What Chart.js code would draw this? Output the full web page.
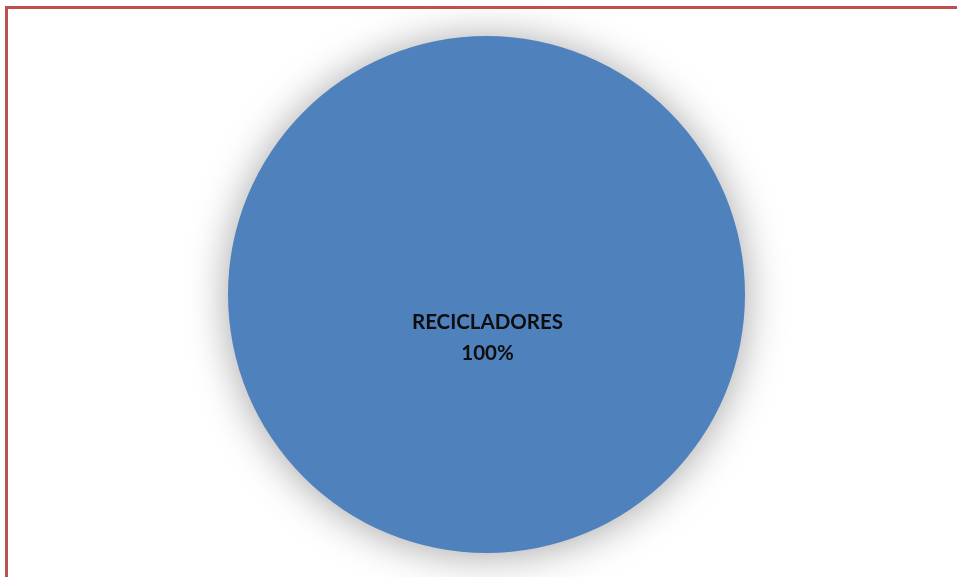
<!DOCTYPE html>
<html>
<head>
<meta charset="utf-8">
<script src="https://cdn.jsdelivr.net/npm/chart.js@4.4.0/dist/chart.umd.min.js"></script>
<style>
    html, body { margin: 0; padding: 0; background: #fff; }
    #wrap { position: relative; width: 957px; height: 577px; overflow: hidden; }
    #frame {
        position: absolute; left: 5px; top: 6px; width: 980px; height: 600px;
        border-left: 3px solid #c0504d; border-top: 3px solid #c0504d;
        pointer-events: none;
    }
    canvas { position: absolute; left: 0; top: 0; }
</style>
</head>
<body>
<div id="wrap">
    <canvas id="chart" width="957" height="577"></canvas>
    <div id="frame"></div>
</div>
<script>
// Pie data
const categories = ['RECICLADORES'];
const values = [100];
const sliceColors = ['#4f81bd'];

// soft shadow behind the pie
const shadowPlugin = {
    id: 'pieShadow',
    beforeDatasetsDraw(chart) {
        const ctx = chart.ctx;
        ctx.save();
        ctx.shadowColor = 'rgba(0,0,0,0.36)';
        ctx.shadowBlur = 42;
        ctx.shadowOffsetX = 0;
        ctx.shadowOffsetY = 2;
    },
    afterDatasetsDraw(chart) {
        chart.ctx.restore();
    },
};

// category + percent label in the slice
const labelPlugin = {
    id: 'sliceLabels',
    afterDraw(chart) {
        const ctx = chart.ctx;
        const meta = chart.getDatasetMeta(0);
        const total = values.reduce((a, b) => a + b, 0);
        ctx.save();
        ctx.fillStyle = '#0d0d0d';
        ctx.font = "bold 20.5px Lato, 'Open Sans', sans-serif";
        ctx.textAlign = 'center';
        ctx.textBaseline = 'middle';
        meta.data.forEach((arc, i) => {
            let x, y;
            if (values.length === 1) {
                x = arc.x; y = arc.y + 44;
            } else {
                const p = arc.tooltipPosition();
                x = p.x; y = p.y;
            }
            const pct = Math.round(values[i] / total * 100) + '%';
            ctx.fillText(categories[i], x + 1, y - 16);
            ctx.fillText(pct, x + 1, y + 15);
        });
        ctx.restore();
    },
};

new Chart(document.getElementById('chart'), {
    type: 'pie',
    data: {
        labels: categories,
        datasets: [{
            data: values,
            backgroundColor: sliceColors,
            borderWidth: 0,
        }],
    },
    options: {
        responsive: false,
        animation: false,
        layout: { padding: { top: 36, bottom: 24, left: 228, right: 212 } },
        plugins: {
            legend: { display: false },
            tooltip: { enabled: false },
        },
    },
    plugins: [shadowPlugin, labelPlugin],
});
</script>
</body>
</html>
